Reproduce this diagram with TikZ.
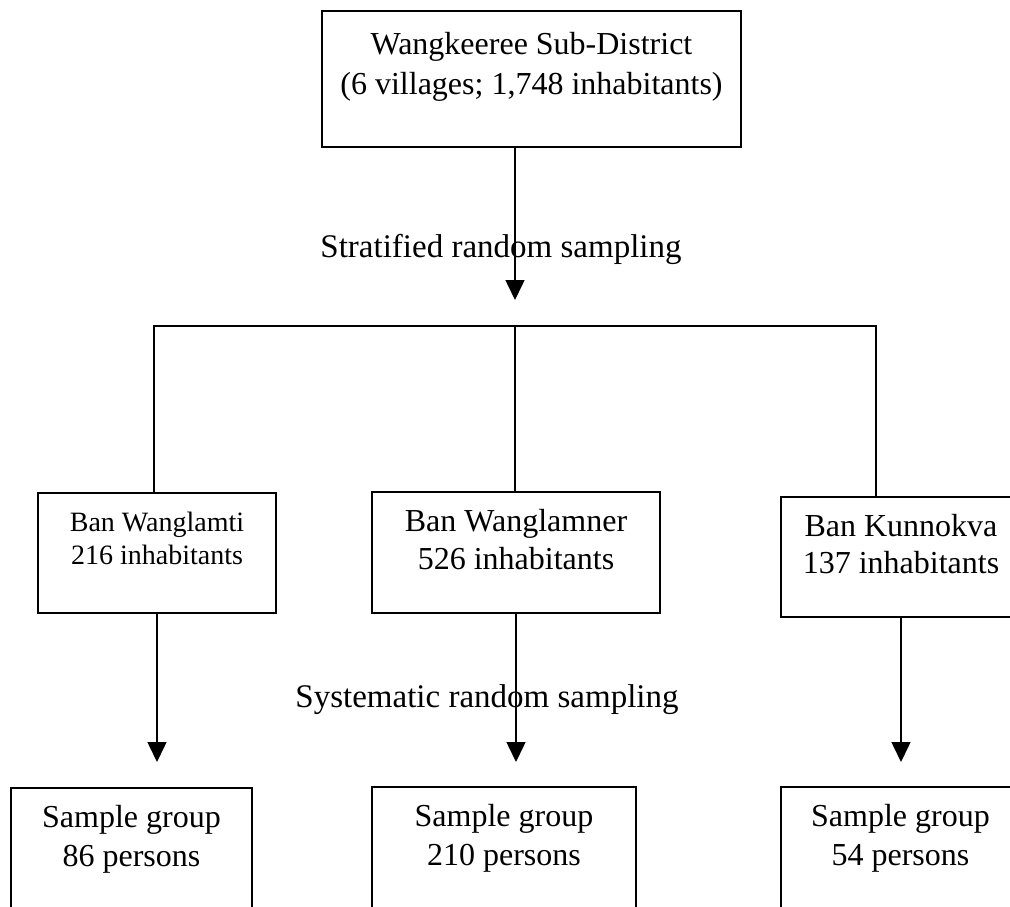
\documentclass[tikz,border=0pt]{standalone}
\usepackage{fontspec}
\setmainfont{Liberation Serif}
\usetikzlibrary{
	arrows.meta,
	positioning
}

\begin{document}
\begin{tikzpicture}[x=1pt, y=-1pt,
		box/.style={draw, line width=1.5pt, rectangle, inner sep=0pt},
		txt/.style={inner sep=0pt, align=center, font=\fontsize{32}{38}\selectfont},
		link/.style={line width=1.5pt},
		flow/.style={line width=1.5pt, -{Triangle[length=20pt,width=19pt]}}]
		\useasboundingbox (0,0) rectangle (1010,906);
		\clip (0,0) rectangle (1010,906);
		% boxes
		\node[box, minimum width=419pt, minimum height=136pt] (dist) at (531.5,79) {};
		\node[box, minimum width=238pt, minimum height=120pt] (v1) at (157,553) {};
		\node[box, minimum width=288pt, minimum height=121pt] (v2) at (516,552.5) {};
		\node[box, minimum width=240pt, minimum height=120pt] (v3) at (901,557) {};
		\node[box, minimum width=241pt, minimum height=200pt] (s1) at (131.5,888) {};
		\node[box, minimum width=264pt, minimum height=200pt] (s2) at (504,887) {};
		\node[box, minimum width=239pt, minimum height=200pt] (s3) at (900.5,887) {};
		% texts
		\node[txt, font=\fontsize{32}{40}\selectfont, below=22pt of dist.north] (dist-txt) {Wangkeeree Sub-District\\(6 villages; 1,748 inhabitants)};
		\node[txt, font=\fontsize{28}{33}\selectfont, below=20pt of v1.north] (v1-txt) {Ban Wanglamti\\216 inhabitants};
		\node[txt, below=18pt of v2.north] (v2-txt) {Ban Wanglamner\\526 inhabitants};
		\node[txt, font=\fontsize{32}{37}\selectfont, below=18pt of v3.north] (v3-txt) {Ban Kunnokva\\137 inhabitants};
		\node[txt, font=\fontsize{32}{39}\selectfont, below=18pt of s1.north] (s1-txt) {Sample group\\86 persons};
		\node[txt, font=\fontsize{32}{39}\selectfont, below=18pt of s2.north] (s2-txt) {Sample group\\210 persons};
		\node[txt, font=\fontsize{32}{39}\selectfont, below=18pt of s3.north] (s3-txt) {Sample group\\54 persons};
		\node[txt, font=\fontsize{33}{40}\selectfont, anchor=base] (strat) at (501,257) {Stratified random sampling};
		\node[txt, font=\fontsize{33}{40}\selectfont, anchor=base] (syst) at (487,707) {Systematic random sampling};
		% connectors
		\coordinate (bus1) at (154,326);
		\coordinate (bus2) at (515,326);
		\coordinate (bus3) at (876,326);
		\coordinate (tip0) at (515,300);
		\coordinate (tiprow) at (0,762);
		\draw[flow] (dist.south -| tip0) -- (tip0);
		\draw[link] (v1.north -| bus1) -- (bus1) -- (bus3) -- (v3.north -| bus3);
		\draw[link] (bus2) -- (v2.north -| bus2);
		\foreach \v in {v1, v2, v3}
		\draw[flow] (\v.south) -- (\v.south |- tiprow);
	\end{tikzpicture}
\end{document}
